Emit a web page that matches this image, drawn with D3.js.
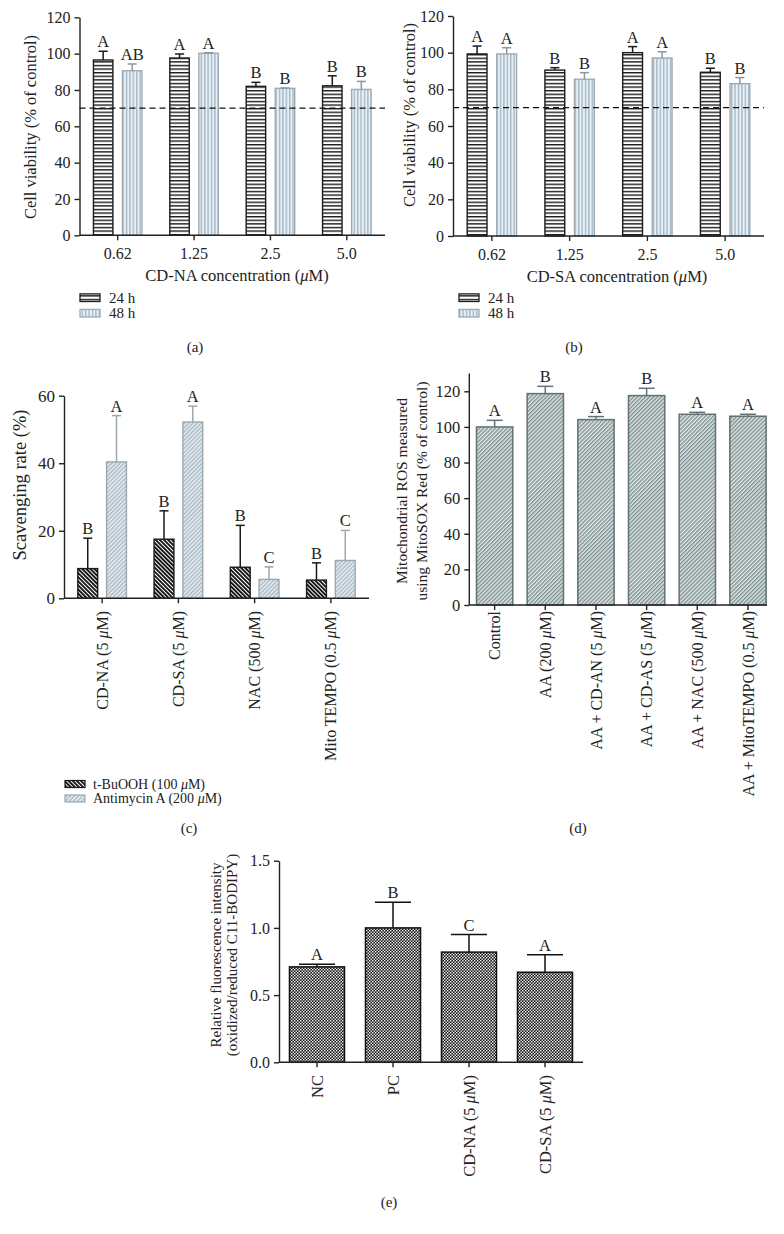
<!DOCTYPE html>
<html><head><meta charset="utf-8">
<script src="https://cdn.jsdelivr.net/npm/d3@7"></script>
<style>
body{margin:0;background:#fff}
svg{display:block}
text{font-family:"Liberation Serif","Times New Roman",serif;fill:#222}
</style>
</head><body>
<svg id="fig" width="784" height="1234"></svg>
<script>
// ---------- DATA ----------
const concCats = ["0.62", "1.25", "2.5", "5.0"];
const seriesTime = ["24 h", "48 h"];
// (a) CD-NA
const na24 = [96.5, 97.6, 82.0, 82.3];
const na24Err = [4.8, 2.2, 2.2, 5.5];
const na48 = [90.6, 100.2, 80.9, 80.3];
const na48Err = [3.7, 0.3, 0.2, 4.4];
const na24Let = ["A", "A", "B", "B"];
const na48Let = ["AB", "A", "B", "B"];
// (b) CD-SA
const sa24 = [99.3, 90.5, 100.0, 89.3];
const sa24Err = [4.3, 1.3, 3.3, 2.2];
const sa48 = [99.3, 85.5, 97.1, 83.1];
const sa48Err = [3.4, 3.6, 3.4, 3.3];
const sa24Let = ["A", "B", "A", "B"];
const sa48Let = ["A", "B", "A", "B"];
const viabTicks = [0, 20, 40, 60, 80, 100, 120];
const threshold = 70;
// (c) scavenging
const scavCats = ["CD-NA (5 μM)", "CD-SA (5 μM)", "NAC (500 μM)", "Mito TEMPO (0.5 μM)"];
const scavSeries = ["t-BuOOH (100 μM)", "Antimycin A (200 μM)"];
const scavBu = [8.8, 17.5, 9.2, 5.4];
const scavBuErr = [9.0, 8.4, 12.4, 5.1];
const scavAnt = [40.4, 52.2, 5.6, 11.2];
const scavAntErr = [13.7, 4.7, 3.7, 8.9];
const scavBuLet = ["B", "B", "B", "B"];
const scavAntLet = ["A", "A", "C", "C"];
const scavTicks = [0, 20, 40, 60];
// (d) mito ROS
const rosCats = ["Control", "AA (200 μM)", "AA + CD-AN (5 μM)", "AA + CD-AS (5 μM)", "AA + NAC (500 μM)", "AA + MitoTEMPO (0.5 μM)"];
const rosVal = [100, 118.7, 104.1, 117.6, 107.1, 106.0];
const rosErr = [3.7, 4.1, 1.7, 4.1, 1.1, 1.1];
const rosLet = ["A", "B", "A", "B", "A", "A"];
const rosTicks = [0, 20, 40, 60, 80, 100, 120];
// (e) lipid peroxidation
const lipCats = ["NC", "PC", "CD-NA (5 μM)", "CD-SA (5 μM)"];
const lipVal = [0.71, 1.00, 0.82, 0.67];
const lipErr = [0.02, 0.19, 0.13, 0.13];
const lipLet = ["A", "B", "C", "A"];
const lipTicks = [0, 0.5, 1.0, 1.5];

// ---------- SETUP ----------
const svg = d3.select("#fig");
const defs = svg.append("defs");
const FONT = "Liberation Serif";

function pat(id, w, h, bg, rot) {
  const p = defs.append("pattern").attr("id", id).attr("patternUnits", "userSpaceOnUse")
    .attr("width", w).attr("height", h);
  if (rot !== undefined) p.attr("patternTransform", `rotate(${rot})`);
  p.append("rect").attr("width", w).attr("height", h).attr("fill", bg);
  return p;
}
pat("pH", 8, 3.6, "#ffffff").append("rect").attr("width", 8).attr("height", 1.4).attr("fill", "#1b1b1b");
pat("pV", 3.4, 8, "#e9f0f5").append("rect").attr("width", 1.4).attr("height", 8).attr("fill", "#a2b8c8");
pat("pDark", 2.9, 10, "#ffffff", -45).append("rect").attr("width", 1.9).attr("height", 10).attr("fill", "#141414");
pat("pLight", 2.9, 10, "#e9eff3", 45).append("rect").attr("width", 1.3).attr("height", 10).attr("fill", "#a3b5c2");
pat("pRos", 2.8, 10, "#e3e9e9", 45).append("rect").attr("width", 1.4).attr("height", 10).attr("fill", "#7e9090");
const pc = pat("pCheck", 3, 3, "#151515");
pc.append("rect").attr("x", 0).attr("y", 0).attr("width", 1.4).attr("height", 1.4).attr("fill", "#fff");
pc.append("rect").attr("x", 1.5).attr("y", 1.5).attr("width", 1.4).attr("height", 1.4).attr("fill", "#fff");

function richText(sel, str) {
  const parts = str.split("μ");
  parts.forEach((p, i) => {
    if (i > 0) sel.append("tspan").attr("font-style", "italic").text("μ");
    if (p.length) sel.append("tspan").text(p);
  });
  return sel;
}

function yAxis(g, y, x0, ticks, fmt, fs) {
  const ax = g.append("g").attr("transform", `translate(${x0},0)`)
    .call(d3.axisLeft(y).tickValues(ticks).tickFormat(fmt).tickSize(5).tickSizeOuter(0).tickPadding(4));
  ax.select(".domain").attr("stroke", "#222").attr("stroke-width", 1.4);
  ax.selectAll(".tick line").attr("stroke", "#222").attr("stroke-width", 1.4);
  ax.selectAll(".tick text").attr("font-family", FONT).attr("font-size", fs).attr("fill", "#222");
  return ax;
}
function xAxis(g, x, y0, xEnd) {
  const ax = g.append("g").attr("transform", `translate(0,${y0})`)
    .call(d3.axisBottom(x).tickSize(5).tickSizeOuter(0).tickFormat(""));
  const r = x.range();
  ax.select(".domain").attr("d", `M${r[0]},0H${xEnd}`).attr("stroke", "#222").attr("stroke-width", 1.4);
  ax.selectAll(".tick line").attr("stroke", "#222").attr("stroke-width", 1.4);
  return ax;
}
function rotLabels(g, x, cats, yTop, fs) {
  cats.forEach(c => {
    const t = g.append("text")
      .attr("transform", `translate(${x(c) + x.bandwidth() / 2},${yTop}) rotate(-90)`)
      .attr("text-anchor", "end").attr("dy", "0.35em")
      .attr("font-size", fs);
    richText(t, c);
  });
}
function yTitle(g, lines, cx, cy, fs, lh) {
  const n = lines.length;
  lines.forEach((l, i) => {
    const t = g.append("text")
      .attr("transform", `translate(${cx + (i - (n - 1) / 2) * lh},${cy}) rotate(-90)`)
      .attr("text-anchor", "middle").attr("dy", "0.35em").attr("font-size", fs);
    richText(t, l);
  });
}
function bars(g, data, y, fill, stroke, sw, errStroke, capW, fs) {
  g.selectAll(null).data(data).enter().append("rect")
    .attr("x", d => d.x).attr("width", d => d.w)
    .attr("y", d => y(d.v)).attr("height", d => y(0) - y(d.v))
    .attr("fill", fill).attr("stroke", stroke).attr("stroke-width", sw);
  const eg = g.selectAll(null).data(data).enter().append("g");
  eg.append("line").attr("x1", d => d.x + d.w / 2).attr("x2", d => d.x + d.w / 2)
    .attr("y1", d => y(d.v)).attr("y2", d => y(d.v + d.e))
    .attr("stroke", errStroke).attr("stroke-width", 1.5);
  eg.append("line").attr("x1", d => d.x + d.w / 2 - capW / 2).attr("x2", d => d.x + d.w / 2 + capW / 2)
    .attr("y1", d => y(d.v + d.e)).attr("y2", d => y(d.v + d.e))
    .attr("stroke", errStroke).attr("stroke-width", 1.5);
  eg.append("text").attr("x", d => d.x + d.w / 2).attr("y", d => y(d.v + d.e) - 4)
    .attr("text-anchor", "middle").attr("font-size", fs).text(d => d.l);
}
function panelLabel(txt, x, y) {
  svg.append("text").attr("x", x).attr("y", y).attr("dy", "0.35em").attr("text-anchor", "middle")
    .attr("font-size", 15).text(txt);
}

// ---------- (a) & (b) ----------
function viability(cfg) {
  const g = svg.append("g");
  const y = d3.scaleLinear().domain([0, 120]).range([cfg.y0, cfg.yTop]);
  const x0 = d3.scaleBand().domain(concCats).range([cfg.xL, cfg.xR]).padding(0);
  const x1 = d3.scaleBand().domain(seriesTime).range([0, x0.bandwidth()]).paddingInner(0.33).paddingOuter(0.48);
  const d24 = concCats.map((c, i) => ({ x: x0(c) + x1("24 h"), w: x1.bandwidth(), v: cfg.v24[i], e: cfg.e24[i], l: cfg.l24[i] }));
  const d48 = concCats.map((c, i) => ({ x: x0(c) + x1("48 h"), w: x1.bandwidth(), v: cfg.v48[i], e: cfg.e48[i], l: cfg.l48[i] }));
  bars(g, d24, y, "url(#pH)", "#1b1b1b", 1.4, "#1b1b1b", 9, 16.5);
  bars(g, d48, y, "url(#pV)", "#a0aab2", 1.4, "#8c969e", 9, 16.5);
  g.append("line").attr("x1", cfg.xL).attr("x2", cfg.xR).attr("y1", y(threshold)).attr("y2", y(threshold))
    .attr("stroke", "#111").attr("stroke-width", 1.3).attr("stroke-dasharray", "6,4");
  yAxis(g, y, cfg.xL, viabTicks, d3.format("d"), 16);
  xAxis(g, x0, cfg.y0, cfg.xR);
  concCats.forEach(c => g.append("text").attr("x", x0(c) + x0.bandwidth() / 2).attr("y", cfg.y0 + 18)
    .attr("dy", "0.35em").attr("text-anchor", "middle").attr("font-size", 16).text(c));
  const xt = g.append("text").attr("x", cfg.titleX).attr("y", cfg.y0 + 40).attr("dy", "0.35em")
    .attr("text-anchor", "middle").attr("font-size", 16.5);
  richText(xt, cfg.xTitle);
  yTitle(g, ["Cell viability (% of control)"], cfg.yTitleX, cfg.yTitleY, 16.5, 0);
  const fills = [["url(#pH)", "#1b1b1b"], ["url(#pV)", "#a0aab2"]];
  seriesTime.forEach((s, i) => {
    const cy = 297.7 + i * 15.5;
    g.append("rect").attr("x", cfg.legX).attr("y", cy - 3.8).attr("width", 20).attr("height", 7.6)
      .attr("fill", fills[i][0]).attr("stroke", fills[i][1]).attr("stroke-width", 1.3);
    g.append("text").attr("x", cfg.legX + 29).attr("y", cy).attr("dy", "0.33em").attr("font-size", 15).text(s);
  });
}
viability({ xL: 79.5, xR: 385, y0: 235.3, yTop: 17.3, v24: na24, e24: na24Err, v48: na48, e48: na48Err,
  l24: na24Let, l48: na48Let, xTitle: "CD-NA concentration (μM)", titleX: 237, yTitleX: 30, yTitleY: 127, legX: 80 });
viability({ xL: 453, xR: 764, y0: 236, yTop: 16, v24: sa24, e24: sa24Err, v48: sa48, e48: sa48Err,
  l24: sa24Let, l48: sa48Let, xTitle: "CD-SA concentration (μM)", titleX: 617, yTitleX: 409, yTitleY: 115, legX: 459 });
panelLabel("(a)", 195, 347);
panelLabel("(b)", 574, 347);

// ---------- (c) ----------
(function () {
  const g = svg.append("g");
  const y = d3.scaleLinear().domain([0, 60]).range([598.3, 395.7]);
  const x0 = d3.scaleBand().domain(scavCats).range([64, 369]).padding(0);
  const x1 = d3.scaleBand().domain(scavSeries).range([0, x0.bandwidth()]).paddingInner(0.31).paddingOuter(0.48);
  const dBu = scavCats.map((c, i) => ({ x: x0(c) + x1(scavSeries[0]), w: x1.bandwidth(), v: scavBu[i], e: scavBuErr[i], l: scavBuLet[i] }));
  const dAnt = scavCats.map((c, i) => ({ x: x0(c) + x1(scavSeries[1]), w: x1.bandwidth(), v: scavAnt[i], e: scavAntErr[i], l: scavAntLet[i] }));
  bars(g, dBu, y, "url(#pDark)", "#1a1a1a", 1.4, "#1a1a1a", 9, 16.5);
  bars(g, dAnt, y, "url(#pLight)", "#9ca8b0", 1.4, "#9ca8b0", 9, 16.5);
  yAxis(g, y, 64, scavTicks, d3.format("d"), 17);
  xAxis(g, x0, 598.3, 369);
  rotLabels(g, x0, scavCats, 611, 16);
  yTitle(g, ["Scavenging rate (%)"], 20, 485, 18.5, 0);
  const fills = [["url(#pDark)", "#1a1a1a"], ["url(#pLight)", "#9ca8b0"]];
  scavSeries.forEach((s, i) => {
    const cy = 784 + i * 14.5;
    g.append("rect").attr("x", 65).attr("y", cy - 3.5).attr("width", 20).attr("height", 7)
      .attr("fill", fills[i][0]).attr("stroke", fills[i][1]).attr("stroke-width", 1.2);
    const t = g.append("text").attr("x", 93).attr("y", cy).attr("dy", "0.33em").attr("font-size", 14);
    richText(t, s);
  });
})();
panelLabel("(c)", 189, 828);

// ---------- (d) ----------
(function () {
  const g = svg.append("g");
  const y = d3.scaleLinear().domain([0, 130]).range([605, 373.5]);
  const x = d3.scaleBand().domain(rosCats).range([469.3, 773.3]).padding(0);
  const inner = d3.scaleBand().domain([0]).range([0, x.bandwidth()]).padding(0.165);
  const d = rosCats.map((c, i) => ({ x: x(c) + inner(0), w: inner.bandwidth(), v: rosVal[i], e: rosErr[i], l: rosLet[i] }));
  bars(g, d, y, "url(#pRos)", "#627272", 1.5, "#627272", 16, 16.5);
  const ax = yAxis(g, y, 469.3, rosTicks, d3.format("d"), 16.5);
  ax.select(".domain").attr("d", `M0,${y(0)}V${y(130)}`);
  xAxis(g, x, 605, 767);
  rotLabels(g, x, rosCats, 611, 16);
  yTitle(g, ["Mitochondrial ROS measured", "using MitoSOX Red (% of control)"], 412, 491, 15.5, 20);
})();
panelLabel("(d)", 578, 828);

// ---------- (e) ----------
(function () {
  const g = svg.append("g");
  const y = d3.scaleLinear().domain([0, 1.5]).range([1062.3, 860.7]);
  const x = d3.scaleBand().domain(lipCats).range([279, 583]).padding(0);
  const inner = d3.scaleBand().domain([0]).range([0, x.bandwidth()]).padding(0.16);
  const d = lipCats.map((c, i) => ({ x: x(c) + inner(0), w: inner.bandwidth(), v: lipVal[i], e: lipErr[i], l: lipLet[i] }));
  bars(g, d, y, "url(#pCheck)", "#111", 1.5, "#111", 36, 16.5);
  yAxis(g, y, 279, lipTicks, d3.format(".1f"), 16);
  xAxis(g, x, 1062.3, 583);
  rotLabels(g, x, lipCats, 1075, 16.5);
  yTitle(g, ["Relative fluorescence intensity", "(oxidized/reduced C11-BODIPY)"], 223.5, 955, 15, 15.7);
})();
panelLabel("(e)", 389, 1202);
</script>
</body></html>
